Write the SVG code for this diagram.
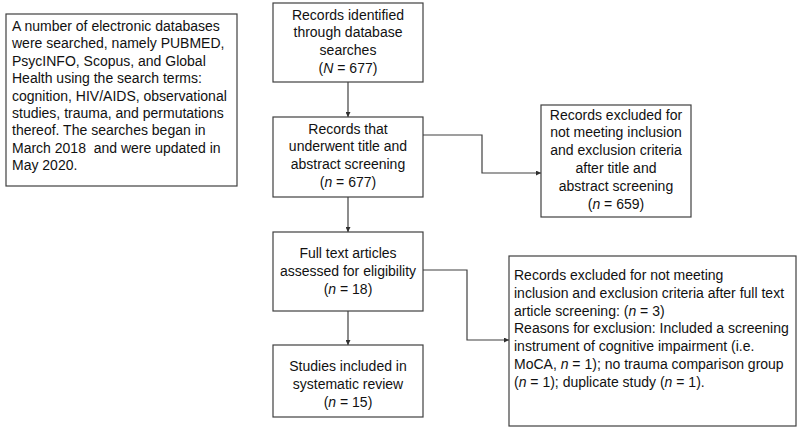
<svg xmlns="http://www.w3.org/2000/svg" width="800" height="429" viewBox="0 0 800 429">
<style>
.box{fill:#fff;stroke:#404040;stroke-width:1.2}
.t{font-family:"Liberation Sans",Arial,sans-serif;font-size:14px;fill:#111}
.c{text-anchor:middle}
.ln{fill:none;stroke:#404040;stroke-width:1.2}
</style>
<defs>
<marker id="ah" viewBox="0 0 10 10" refX="10" refY="5" markerWidth="5" markerHeight="5" orient="auto" markerUnits="userSpaceOnUse">
<path d="M0,0 L10,5 L0,10 z" fill="#303030"/>
</marker>
</defs>
<rect width="800" height="429" fill="#fff"/>
<g id="connectors">
<line class="ln" x1="348" y1="82" x2="348" y2="117" marker-end="url(#ah)"/>
<polyline class="ln" points="423,135 482,135 482,173 541,173" marker-end="url(#ah)"/>
<line class="ln" x1="348" y1="197" x2="348" y2="232" marker-end="url(#ah)"/>
<polyline class="ln" points="423,270 467,270 467,340 509,340" marker-end="url(#ah)"/>
<line class="ln" x1="348" y1="311" x2="348" y2="345" marker-end="url(#ah)"/>
</g>
<g id="search-note">
<rect class="box" x="6" y="14" width="231" height="172"/>
<text class="t" x="12" y="31">A number of electronic databases</text>
<text class="t" x="12" y="48.4">were searched, namely PUBMED,</text>
<text class="t" x="12" y="65.8">PsycINFO, Scopus, and Global</text>
<text class="t" x="12" y="83.2">Health using the search terms:</text>
<text class="t" x="12" y="100.6">cognition, HIV/AIDS, observational</text>
<text class="t" x="12" y="118">studies, trauma, and permutations</text>
<text class="t" x="12" y="135.4">thereof. The searches began in</text>
<text class="t" x="12" y="152.8" xml:space="preserve">March 2018  and were updated in</text>
<text class="t" x="12" y="170.2">May 2020.</text>
</g>
<g id="identified">
<rect class="box" x="273" y="3" width="150" height="79"/>
<text class="t c" x="348" y="19.5">Records identified</text>
<text class="t c" x="348" y="37.2">through database</text>
<text class="t c" x="348" y="54.9">searches</text>
<text class="t c" x="348" y="72.6">(<tspan font-style="italic">N</tspan> = 677)</text>
</g>
<g id="screened">
<rect class="box" x="273" y="117" width="150" height="80"/>
<text class="t c" x="348" y="133.5">Records that</text>
<text class="t c" x="348" y="151.2">underwent title and</text>
<text class="t c" x="348" y="168.9">abstract screening</text>
<text class="t c" x="348" y="186.6">(<tspan font-style="italic">n</tspan> = 677)</text>
</g>
<g id="excluded-title">
<rect class="box" x="541" y="105" width="150" height="112"/>
<text class="t c" x="616" y="119.5">Records excluded for</text>
<text class="t c" x="616" y="137.3">not meeting inclusion</text>
<text class="t c" x="616" y="155.1">and exclusion criteria</text>
<text class="t c" x="616" y="172.9">after title and</text>
<text class="t c" x="616" y="190.7">abstract screening</text>
<text class="t c" x="616" y="208.5">(<tspan font-style="italic">n</tspan> = 659)</text>
</g>
<g id="fulltext">
<rect class="box" x="273" y="232" width="150" height="79"/>
<text class="t c" x="348" y="257.5">Full text articles</text>
<text class="t c" x="348" y="275.8">assessed for eligibility</text>
<text class="t c" x="348" y="294">(<tspan font-style="italic">n</tspan> = 18)</text>
</g>
<g id="included">
<rect class="box" x="273" y="345" width="150" height="72"/>
<text class="t c" x="348" y="371">Studies included in</text>
<text class="t c" x="348" y="389.2">systematic review</text>
<text class="t c" x="348" y="407.4">(<tspan font-style="italic">n</tspan> = 15)</text>
</g>
<g id="excluded-fulltext">
<rect class="box" x="509" y="256" width="287" height="170"/>
<text class="t" x="514" y="280">Records excluded for not meeting</text>
<text class="t" x="514" y="297.8">inclusion and exclusion criteria after full text</text>
<text class="t" x="514" y="315.6">article screening: (<tspan font-style="italic">n</tspan> = 3)</text>
<text class="t" x="514" y="333.4">Reasons for exclusion: Included a screening</text>
<text class="t" x="514" y="351.2">instrument of cognitive impairment (i.e.</text>
<text class="t" x="514" y="369">MoCA, <tspan font-style="italic">n</tspan> = 1); no trauma comparison group</text>
<text class="t" x="514" y="386.8">(<tspan font-style="italic">n</tspan> = 1); duplicate study (<tspan font-style="italic">n</tspan> = 1).</text>
</g>
</svg>
